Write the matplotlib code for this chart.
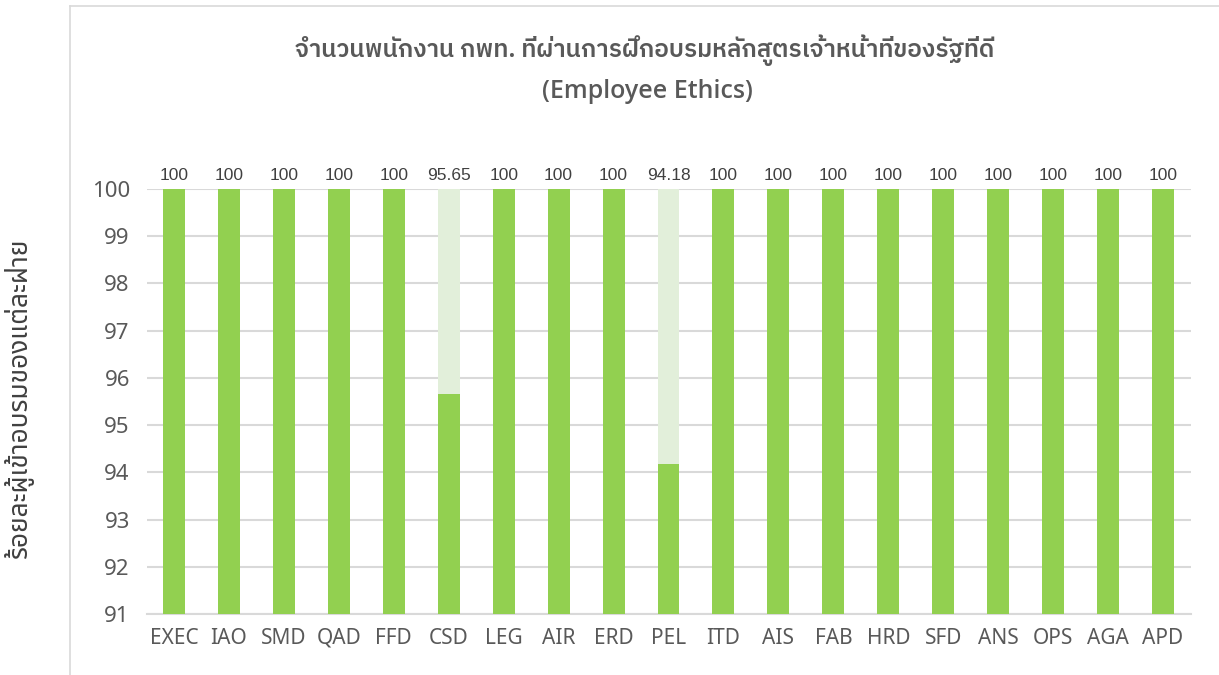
import matplotlib
matplotlib.use("Agg")
import matplotlib.pyplot as plt
from matplotlib.lines import Line2D

categories = ["EXEC", "IAO", "SMD", "QAD", "FFD", "CSD", "LEG", "AIR", "ERD", "PEL",
              "ITD", "AIS", "FAB", "HRD", "SFD", "ANS", "OPS", "AGA", "APD"]
values = [100, 100, 100, 100, 100, 95.65, 100, 100, 100, 94.18,
          100, 100, 100, 100, 100, 100, 100, 100, 100]
total = 100
remainder = [total - v for v in values]
yticks = [91, 92, 93, 94, 95, 96, 97, 98, 99, 100]
title_line1 = "จำนวนพนักงาน กพท. ที่ผ่านการฝึกอบรมหลักสูตรเจ้าหน้าที่ของรัฐที่ดี"
title_line2 = "(Employee Ethics)"
ylabel = "ร้อยละผู้เข้าอบรมของแต่ละฝ่าย"

FAM = ["Noto Sans Thai", "Noto Sans", "DejaVu Sans"]
plt.rcParams["font.family"] = FAM

W, H = 1219, 675
fig = plt.figure(figsize=(W / 100, H / 100), dpi=100)
ax = fig.add_axes([146.5 / W, 1 - 614 / H, (1190.5 - 146.5) / W, (614 - 189) / H])

x = list(range(len(categories)))
green = "#92D050"
light = "#E2EFDA"
ax.bar(x, values, width=0.4, color=green, zorder=3)
ax.bar(x, remainder, bottom=values, width=0.4, color=light, zorder=3)

for xi, v in zip(x, values):
    ax.annotate(f"{v:g}", (xi, total), xytext=(0, 4), textcoords="offset points",
                ha="center", va="bottom", fontsize=12.5, color="#404040",
                family=["Liberation Sans", "DejaVu Sans"], annotation_clip=False)

ax.set_xlim(-0.5, len(categories) - 0.5)
ax.set_ylim(91, 100)
ax.set_yticks(yticks)
ax.set_xticks(x)
ax.set_xticklabels(categories)
ax.yaxis.grid(True, color="#D9D9D9", linewidth=1.5, zorder=0)
ax.set_axisbelow(True)
for s in ["top", "right", "left"]:
    ax.spines[s].set_visible(False)
ax.spines["bottom"].set_color("#D9D9D9")
ax.spines["bottom"].set_linewidth(1.5)
ax.tick_params(axis="both", length=0, labelsize=15, colors="#595959")
ax.tick_params(axis="x", pad=10)
ax.tick_params(axis="y", pad=12, labelsize=16)

fig.text(645 / W, 1 - 50 / H, title_line1, ha="center", va="center",
         fontsize=17.6, fontweight=600, color="#595959",
         family=["IBM Plex Sans Thai", "Noto Sans"])
fig.text(647 / W, 1 - 91 / H, title_line2, ha="center", va="center",
         fontsize=18, fontweight=600, color="#595959",
         family=["Open Sans", "Noto Sans"])
fig.text(19 / W, 1 - 398 / H, ylabel, ha="center", va="center", rotation=90,
         fontsize=19, color="#404040")

# chart area border (partially visible)
fig.add_artist(Line2D([70 / W, 70 / W], [0, 1 - 6 / H], transform=fig.transFigure,
                      color="#D9D9D9", linewidth=1.2))
fig.add_artist(Line2D([70 / W, 1], [1 - 6 / H, 1 - 6 / H], transform=fig.transFigure,
                      color="#D9D9D9", linewidth=1.2))

fig.savefig("out.png", dpi=100)
